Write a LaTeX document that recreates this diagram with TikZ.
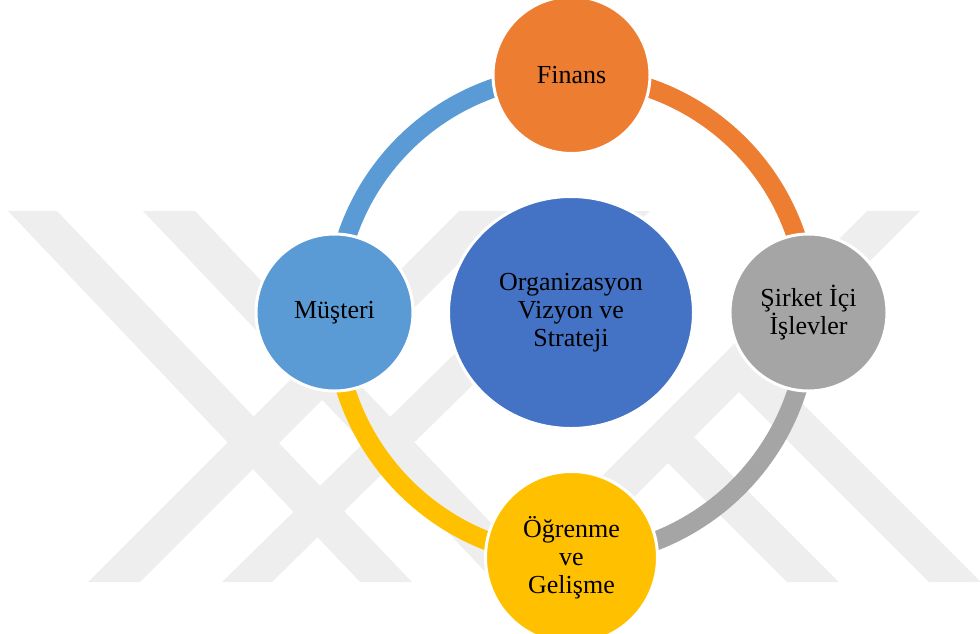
\documentclass[tikz,border=0pt]{standalone}
\usepackage{fontspec}
\setmainfont{Liberation Serif}
\usetikzlibrary{shapes.geometric,backgrounds}
\definecolor{cOrange}{HTML}{ED7D31}
\definecolor{cGray}{HTML}{A5A5A5}
\definecolor{cGold}{HTML}{FFC000}
\definecolor{cBlue}{HTML}{5B9BD5}
\definecolor{cDark}{HTML}{4472C4}
\definecolor{cMark}{HTML}{EEEEEE}
\begin{document}
\begin{tikzpicture}[x=1pt,y=-1pt,
  ringseg/.style={line width=19pt},
  bubble/.style={circle,draw=white,line width=3pt,inner sep=0pt,minimum size=157pt,
    align=center,font=\fontsize{26}{28}\selectfont,text=black},
  hub/.style={ellipse,draw=white,line width=3pt,inner sep=0pt,minimum width=245pt,
    minimum height=232pt,align=center,font=\fontsize{26}{28}\selectfont,text=black,fill=cDark},
  wm/.style={fill=cMark,draw=none}]
\useasboundingbox (0,0) rectangle (980,633);
\clip (0,0) rectangle (980,633);

\node[bubble,fill=cOrange] (fin) at (571.5,75) {Finans};
\node[bubble,fill=cGray] (sir) at (808.5,312.5) {Şirket İçi\\İşlevler};
\node[bubble,fill=cGold,minimum size=172pt] (ogr) at (571.5,557.5) {Öğrenme\\ve\\Gelişme};
\node[bubble,fill=cBlue] (mus) at (334.5,312.5) {Müşteri};
\node[hub] (org) at (571,312.5) {Organizasyon\\Vizyon ve\\Strateji};

\begin{scope}[on background layer]
  % watermark
  \fill[wm] (8,211) -- (57,211) -- (412,582) -- (360,582) -- cycle;
  \fill[wm] (459,211) -- (511,211) -- (140,582) -- (88,582) -- cycle;
  \fill[wm] (143,211) -- (195,211) -- (547,582) -- (495,582) -- cycle;
  \fill[wm] (600,211) -- (650,211) -- (272,582) -- (222,582) -- cycle;
  \fill[wm] (867,211) -- (920,211) -- (549,582) -- (496,582) -- cycle;
  \fill[wm] (725.75,378.75) -- (751.75,352.75) -- (981,582) -- (929,582) -- cycle;
  \fill[wm] (654.75,449.75) -- (680.75,423.75) -- (839,582) -- (787,582) -- cycle;
  % ring
  \draw[ringseg,cOrange] (fin.center) to[bend left=45] (sir.center);
  \draw[ringseg,cGray] (sir.center) to[bend left=45] (ogr.center);
  \draw[ringseg,cGold] (ogr.center) to[bend left=45] (mus.center);
  \draw[ringseg,cBlue] (mus.center) to[bend left=45] (fin.center);
\end{scope}
\end{tikzpicture}
\end{document}
